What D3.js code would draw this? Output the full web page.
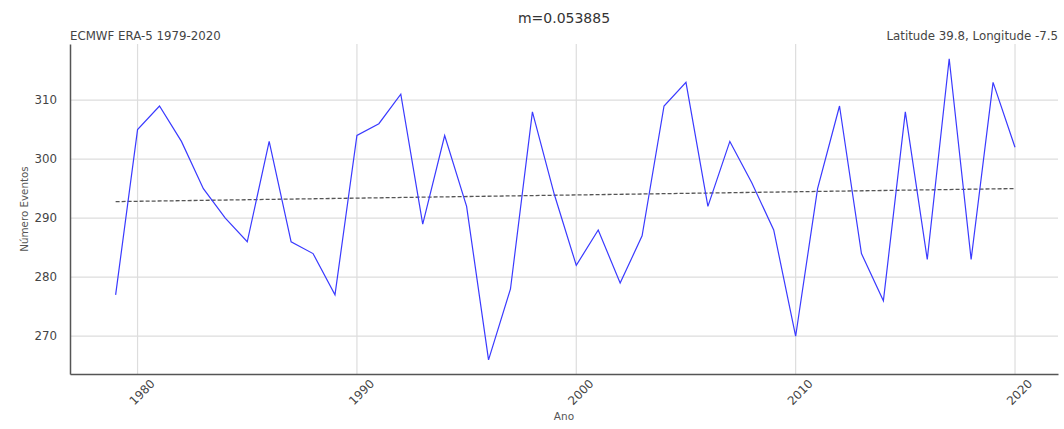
<!DOCTYPE html>
<html>
<head>
<meta charset="utf-8">
<script src="https://cdn.jsdelivr.net/npm/d3@7"></script>
<style>
  body { margin: 0; background: #fff; }
  text { font-family: "DejaVu Sans", sans-serif; }
</style>
</head>
<body>
<div id="chart"></div>
<script>
// data
const years = d3.range(1979, 2021);
const events = [277, 305, 309, 303, 295, 290, 286, 303, 286, 284, 277,
                304, 306, 311, 289, 304, 292, 266, 278, 308, 294,
                282, 288, 279, 287, 309, 313, 292, 303, 296, 288,
                270, 295, 309, 284, 276, 308, 283, 317, 283, 313, 302];
const slope = 0.053885;
const xTicks = [1980, 1990, 2000, 2010, 2020];
const yTicks = [270, 280, 290, 300, 310];

let width = 1064, height = 429;
let margin = {top: 44, right: 6, bottom: 55, left: 70};

let svg = d3.select("#chart").append("svg")
    .attr("width", width)
    .attr("height", height);

let x = d3.scaleLinear()
    .domain([1976.92, 2021.96])
    .range([margin.left, width - margin.right]);
let y = d3.scaleLinear()
    .domain([263.6, 319.5])
    .range([height - margin.bottom, margin.top]);

// grid
svg.append("g")
    .selectAll("line")
    .data(yTicks)
    .enter().append("line")
    .attr("x1", margin.left).attr("x2", width - margin.right)
    .attr("y1", d => y(d)).attr("y2", d => y(d))
    .attr("stroke", "#dddddd").attr("stroke-width", 1.2);
svg.append("g")
    .selectAll("line")
    .data(xTicks)
    .enter().append("line")
    .attr("x1", d => x(d)).attr("x2", d => x(d))
    .attr("y1", margin.top).attr("y2", height - margin.bottom)
    .attr("stroke", "#dddddd").attr("stroke-width", 1.2);

// trend line through the mean point with the slope shown in the title
let mx = d3.mean(years), my = d3.mean(events);
let intercept = my - slope * mx;
svg.append("line")
    .attr("x1", x(years[0])).attr("x2", x(years[years.length - 1]))
    .attr("y1", y(intercept + slope * years[0]))
    .attr("y2", y(intercept + slope * years[years.length - 1]))
    .attr("stroke", "#555").attr("stroke-width", 1.3)
    .attr("stroke-dasharray", "4,2");

// data line
let line = d3.line()
    .x((d, i) => x(years[i]))
    .y(d => y(d));
svg.append("path")
    .datum(events)
    .attr("d", line)
    .attr("fill", "none")
    .attr("stroke", "#3a3aff")
    .attr("stroke-width", 1.2);

// axes
let xAxis = svg.append("g")
    .attr("transform", "translate(0," + (height - margin.bottom) + ")")
    .call(d3.axisBottom(x).tickValues(xTicks).tickFormat(d3.format("d")).tickSize(0).tickPadding(8));
xAxis.select(".domain").attr("stroke", "#555").attr("stroke-width", 1.5);
xAxis.selectAll("text")
    .attr("fill", "#444")
    .style("font-size", "11.8px")
    .attr("text-anchor", "end")
    .attr("dx", "0.9em")
    .attr("dy", "1.2em")
    .attr("transform", "rotate(-45,0,8)");

let yAxis = svg.append("g")
    .attr("transform", "translate(" + margin.left + ",0)")
    .call(d3.axisLeft(y).tickValues(yTicks).tickSize(0).tickPadding(13));
yAxis.select(".domain").attr("stroke", "#555").attr("stroke-width", 1.5);
yAxis.selectAll("text").attr("fill", "#444").style("font-size", "11.8px");

// labels
svg.append("text")
    .attr("x", (margin.left + width - margin.right) / 2).attr("y", 23)
    .attr("text-anchor", "middle")
    .style("font-size", "14px").attr("fill", "#333")
    .text("m=" + slope);
svg.append("text")
    .attr("x", margin.left).attr("y", 40)
    .style("font-size", "11.8px").attr("fill", "#444")
    .text("ECMWF ERA-5 1979-2020");
svg.append("text")
    .attr("x", width - margin.right).attr("y", 40)
    .attr("text-anchor", "end")
    .style("font-size", "11.8px").attr("fill", "#444")
    .text("Latitude 39.8, Longitude -7.5");
svg.append("text")
    .attr("transform", "translate(28,209) rotate(-90)")
    .attr("text-anchor", "middle")
    .style("font-size", "10.3px").attr("fill", "#555")
    .text("Número Eventos");
svg.append("text")
    .attr("x", (margin.left + width - margin.right) / 2).attr("y", 420)
    .attr("text-anchor", "middle")
    .style("font-size", "10.5px").attr("fill", "#555")
    .text("Ano");
</script>
</body>
</html>
